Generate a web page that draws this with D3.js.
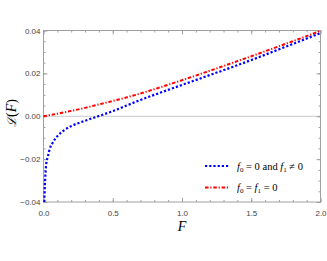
<!DOCTYPE html>
<html>
<head>
<meta charset="utf-8">
<script src="https://cdn.jsdelivr.net/npm/d3@7"></script>
<style>
  body { margin: 0; background: #fff; }
  .tick text { font-family: "Liberation Sans", Arial, sans-serif; font-size: 8px; fill: #444; }
</style>
</head>
<body>
<svg width="327" height="261"></svg>
<script>
// F values and L(F) for each case
const blueF = [0.006, 0.01, 0.015, 0.02, 0.03, 0.045, 0.065, 0.1, 0.15, 0.2, 0.3, 0.4, 0.5, 0.6, 0.7, 0.8, 0.9, 1.0, 1.2, 1.4, 1.6, 1.8, 2.0];
const blueL = [-0.040, -0.032, -0.026, -0.022, -0.0192, -0.0152, -0.0125, -0.0093, -0.0065, -0.0046, -0.0021, 0.0001, 0.0024, 0.0050, 0.0076, 0.0100, 0.0123, 0.0146, 0.0192, 0.0238, 0.0287, 0.0337, 0.0388];
const redF = [0, 0.1, 0.2, 0.3, 0.4, 0.5, 0.6, 0.7, 0.8, 0.9, 1.0, 1.2, 1.4, 1.6, 1.8, 2.0];
const redL = [0, 0.0012, 0.0025, 0.0039, 0.0055, 0.0071, 0.0088, 0.0106, 0.0126, 0.0147, 0.0168, 0.0212, 0.0257, 0.0303, 0.0350, 0.0398];
const xTicks = [0, 0.5, 1.0, 1.5, 2.0];
const yTicks = [-0.04, -0.02, 0, 0.02, 0.04];

const svg = d3.select("svg"),
  margin = { top: 30.5, right: 6.5, bottom: 59, left: 43.5 },
  width = +svg.attr("width") - margin.left - margin.right,
  height = +svg.attr("height") - margin.top - margin.bottom,
  x = d3.scaleLinear().domain([0, 2]).range([0, width]),
  y = d3.scaleLinear().domain([-0.04, 0.04]).range([height, 0]),
  g = svg.append("g").attr("transform", `translate(${margin.left},${margin.top})`);

// zero axis line
g.append("line")
  .attr("x1", 0).attr("x2", width)
  .attr("y1", y(0)).attr("y2", y(0))
  .attr("stroke", "#c8c8c8").attr("stroke-width", 1);

// frame
g.append("rect")
  .attr("width", width).attr("height", height)
  .attr("fill", "none").attr("stroke", "#a0a0a0").attr("stroke-width", 1);

const minorX = d3.range(0, 2.001, 0.1);
const minorY = d3.range(-0.04, 0.0401, 0.005);

function ticks(axis, vals, len) {
  return axis(vals === null ? x : y);
}

// bottom axis with labels
g.append("g")
  .attr("transform", `translate(0,${height})`)
  .call(d3.axisBottom(x).tickValues(xTicks).tickSize(-4).tickPadding(8).tickFormat(d3.format(".1f")))
  .call(a => a.select(".domain").remove())
  .call(a => a.selectAll("line").attr("stroke", "#a0a0a0"));
g.append("g")
  .attr("transform", `translate(0,${height})`)
  .call(d3.axisBottom(x).tickValues(minorX).tickSize(-2).tickFormat(""))
  .call(a => a.select(".domain").remove())
  .call(a => a.selectAll("line").attr("stroke", "#a0a0a0"));
// top axis
g.append("g")
  .call(d3.axisTop(x).tickValues(xTicks).tickSize(-4).tickFormat(""))
  .call(a => a.select(".domain").remove())
  .call(a => a.selectAll("line").attr("stroke", "#a0a0a0"));
g.append("g")
  .call(d3.axisTop(x).tickValues(minorX).tickSize(-2).tickFormat(""))
  .call(a => a.select(".domain").remove())
  .call(a => a.selectAll("line").attr("stroke", "#a0a0a0"));

// left axis with labels
const fmtY = d => (d < 0 ? "\u2212" : "") + d3.format(".2f")(Math.abs(d));
g.append("g")
  .call(d3.axisLeft(y).tickValues(yTicks).tickSize(-4).tickPadding(3).tickFormat(fmtY))
  .call(a => a.select(".domain").remove())
  .call(a => a.selectAll("line").attr("stroke", "#a0a0a0"));
g.append("g")
  .call(d3.axisLeft(y).tickValues(minorY).tickSize(-2).tickFormat(""))
  .call(a => a.select(".domain").remove())
  .call(a => a.selectAll("line").attr("stroke", "#a0a0a0"));
// right axis
g.append("g")
  .attr("transform", `translate(${width},0)`)
  .call(d3.axisRight(y).tickValues(yTicks).tickSize(-4).tickFormat(""))
  .call(a => a.select(".domain").remove())
  .call(a => a.selectAll("line").attr("stroke", "#a0a0a0"));
g.append("g")
  .attr("transform", `translate(${width},0)`)
  .call(d3.axisRight(y).tickValues(minorY).tickSize(-2).tickFormat(""))
  .call(a => a.select(".domain").remove())
  .call(a => a.selectAll("line").attr("stroke", "#a0a0a0"));

const line = d3.line().curve(d3.curveMonotoneX);

g.append("path")
  .datum(redF.map((f, i) => [x(f), y(redL[i])]))
  .attr("d", line)
  .attr("fill", "none")
  .attr("stroke", "#ff0000")
  .attr("stroke-width", 2)
  .attr("stroke-dasharray", "3.5,1.8,1.2,1.8");

g.append("path")
  .datum(blueF.map((f, i) => [x(f), y(blueL[i])]))
  .attr("d", line)
  .attr("fill", "none")
  .attr("stroke", "#0000ff")
  .attr("stroke-width", 2.2)
  .attr("stroke-dasharray", "2.2,2");

// legend
const lg = svg.append("g").style("font-family", "'Liberation Serif', 'Times New Roman', serif").style("font-size", "10.5px");
lg.append("line").attr("x1", 205).attr("x2", 230).attr("y1", 166).attr("y2", 166)
  .attr("stroke", "#0000ff").attr("stroke-width", 2).attr("stroke-dasharray", "2.2,2");
lg.append("line").attr("x1", 205).attr("x2", 230).attr("y1", 187.5).attr("y2", 187.5)
  .attr("stroke", "#ff0000").attr("stroke-width", 2).attr("stroke-dasharray", "3.5,1.8,1.2,1.8");

const t1 = lg.append("text").attr("x", 237).attr("y", 169.5);
t1.append("tspan").style("font-style", "italic").text("f");
t1.append("tspan").attr("font-size", "7px").attr("dy", 2).text("0");
t1.append("tspan").attr("dy", -2).text(" = 0 and ");
t1.append("tspan").style("font-style", "italic").text("f");
t1.append("tspan").attr("font-size", "7px").attr("dy", 2).text("1");
t1.append("tspan").attr("dy", -2).text(" \u2260 0");

const t2 = lg.append("text").attr("x", 237).attr("y", 191);
t2.append("tspan").style("font-style", "italic").text("f");
t2.append("tspan").attr("font-size", "7px").attr("dy", 2).text("0");
t2.append("tspan").attr("dy", -2).text(" = ");
t2.append("tspan").style("font-style", "italic").text("f");
t2.append("tspan").attr("font-size", "7px").attr("dy", 2).text("1");
t2.append("tspan").attr("dy", -2).text(" = 0");

// axis titles
svg.append("text")
  .attr("x", 182).attr("y", 231)
  .attr("text-anchor", "middle")
  .style("font-family", "'Liberation Serif', serif")
  .style("font-style", "italic")
  .style("font-size", "14px")
  .text("F");

const yl = svg.append("text")
  .attr("transform", "translate(16,113) rotate(-90)")
  .attr("text-anchor", "middle")
  .style("font-family", "'DejaVu Serif', serif")
  .style("font-size", "12px");
yl.append("tspan").style("font-style", "italic").text("\u2112");
yl.append("tspan").style("font-family", "'Liberation Serif', serif").style("font-size", "14px").text("(");
yl.append("tspan").style("font-family", "'Liberation Serif', serif").style("font-size", "14px").style("font-style", "italic").text("F");
yl.append("tspan").style("font-family", "'Liberation Serif', serif").style("font-size", "14px").text(")");
</script>
</body>
</html>
